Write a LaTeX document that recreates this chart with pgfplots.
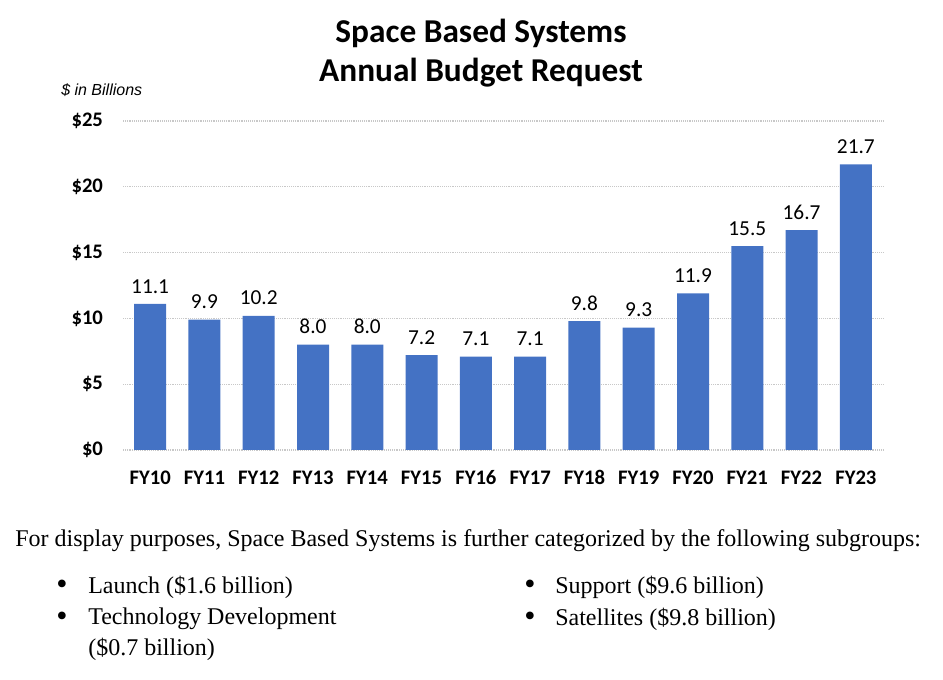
\documentclass[border=0pt]{standalone}
\usepackage{fontspec}
\setmainfont{Liberation Serif}
\newfontfamily\calfont{Carlito}
\newfontfamily\arialfont{Liberation Sans}
\usepackage{pgfplots}
\pgfplotsset{compat=1.18}
\definecolor{barblue}{RGB}{68,114,196}
\definecolor{gridgray}{RGB}{200,200,200}

\begin{document}
\begin{tikzpicture}
% picture frame: 943 x 680 px at 0.75pt per px
\useasboundingbox (0,0) rectangle (707.25pt,510pt);

\begin{axis}[
    at={(92.25pt,172.5pt)}, anchor=south west,
    scale only axis,
    width=570pt, height=246.75pt,
    xmin=-0.5, xmax=13.5,
    ymin=0, ymax=25,
    axis line style={draw=none},
    ymajorgrids,
    grid style={gridgray, densely dotted, line width=0.9pt},
    xtick={0,...,13},
    xticklabels={FY10,FY11,FY12,FY13,FY14,FY15,FY16,FY17,FY18,FY19,FY20,FY21,FY22,FY23},
    ytick={0,5,10,15,20,25},
    yticklabels={\$0,\$5,\$10,\$15,\$20,\$25},
    x tick label style={font=\calfont\bfseries\fontsize{15.5}{18}\selectfont, yshift=-12pt},
    y tick label style={font=\calfont\bfseries\fontsize{15.5}{18}\selectfont, xshift=-11.5pt},
    major tick length=0pt,
    clip=false,
    nodes near coords={\pgfmathprintnumber[fixed,fixed zerofill,precision=1,assume math mode=true]{\pgfplotspointmeta}},
    every node near coord/.append style={font=\calfont\fontsize{16}{19}\selectfont, black, yshift=4.5pt},
]
\addplot[ybar, bar width=24pt, fill=barblue, draw=none] coordinates {
    (0,11.1) (1,9.9) (2,10.2) (3,8.0) (4,8.0) (5,7.2) (6,7.1)
    (7,7.1) (8,9.8) (9,9.3) (10,11.9) (11,15.5) (12,16.7) (13,21.7)
};
\end{axis}

% title
\node[font=\calfont\bfseries\fontsize{25}{29}\selectfont, align=center] at (360.75pt,470pt)
    {Space Based Systems\\Annual Budget Request};
\node[font=\arialfont\itshape\fontsize{12}{14}\selectfont, anchor=west, inner sep=0pt] at (45.75pt,442.5pt)
    {\$ in Billions};

% text below the chart
\node[font=\fontsize{18}{21}\selectfont, anchor=west, inner sep=0pt] at (11.25pt,104.25pt)
    {For display purposes, Space Based Systems is further categorized by the following subgroups:};
\begin{scope}[every node/.style={font=\fontsize{18}{21}\selectfont, anchor=west, inner sep=0pt}]
\node[font=\fontsize{24}{24}\selectfont] at (42pt,69.75pt) {•};
\node at (66pt,69.75pt) {Launch (\$1.6 billion)};
\node[font=\fontsize{24}{24}\selectfont] at (42pt,45.75pt) {•};
\node at (66pt,45.75pt) {Technology Development};
\node at (66pt,23.25pt) {(\$0.7 billion)};
\node[font=\fontsize{24}{24}\selectfont] at (393pt,69.75pt) {•};
\node at (416.25pt,69.75pt) {Support (\$9.6 billion)};
\node[font=\fontsize{24}{24}\selectfont] at (393pt,45.75pt) {•};
\node at (416.25pt,45.75pt) {Satellites (\$9.8 billion)};
\end{scope}
\end{tikzpicture}
\end{document}
